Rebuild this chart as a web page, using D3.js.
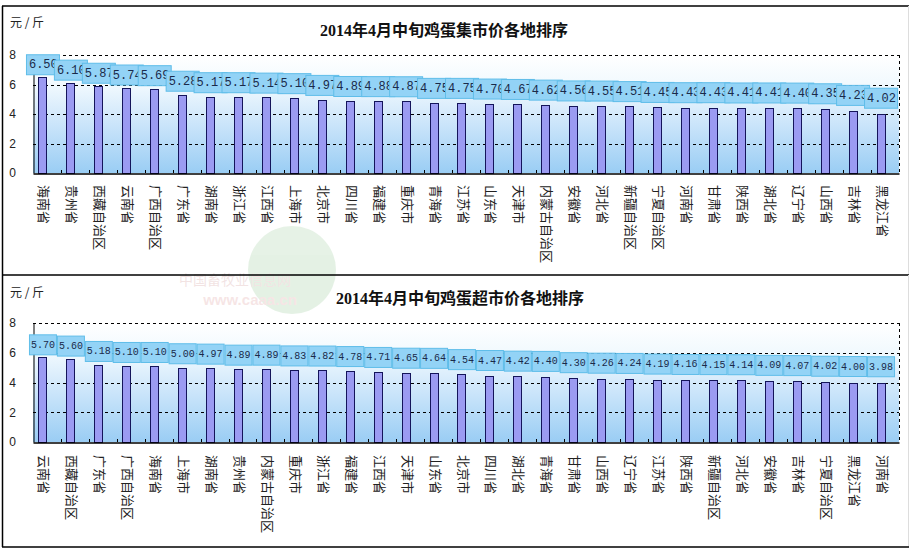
<!DOCTYPE html>
<html><head><meta charset="utf-8">
<script src="https://cdn.jsdelivr.net/npm/d3@7/dist/d3.min.js"></script>
<style>body{margin:0;background:#fff;overflow:hidden}</style>
</head><body><svg id="c" width="920" height="553"></svg>
<script>
// ---------- data ----------
const marketCategories = ["海南省","贵州省","西藏自治区","云南省","广西自治区","广东省","湖南省","浙江省","江西省","上海市","北京市","四川省","福建省","重庆市","青海省","江苏省","山东省","天津市","内蒙古自治区","安徽省","河北省","新疆自治区","宁夏自治区","河南省","甘肃省","陕西省","湖北省","辽宁省","山西省","吉林省","黑龙江省"];
const marketValues = [6.50,6.10,5.87,5.74,5.69,5.28,5.17,5.17,5.14,5.10,4.97,4.89,4.88,4.87,4.75,4.75,4.70,4.67,4.62,4.56,4.55,4.51,4.45,4.43,4.43,4.41,4.41,4.40,4.35,4.23,4.02];
const superCategories = ["云南省","西藏自治区","广东省","广西自治区","海南省","上海市","湖南省","贵州省","内蒙古自治区","重庆市","浙江省","福建省","江西省","天津市","山东省","北京市","四川省","湖北省","青海省","甘肃省","山西省","辽宁省","江苏省","陕西省","新疆自治区","河北省","安徽省","吉林省","宁夏自治区","黑龙江省","河南省"];
const superValues = [5.70,5.60,5.18,5.10,5.10,5.00,4.97,4.89,4.89,4.83,4.82,4.78,4.71,4.65,4.64,4.54,4.47,4.42,4.40,4.30,4.26,4.24,4.19,4.16,4.15,4.14,4.09,4.07,4.02,4.00,3.98];
const yTicks = [0,2,4,6,8];
const unitLabel = "元 / 斤";
const marketTitle = "2014年4月中旬鸡蛋集市价各地排序";
const superTitle = "2014年4月中旬鸡蛋超市价各地排序";

// ---------- drawing ----------
const svg = d3.select("#c");
const defs = svg.append("defs");
const grad = defs.append("linearGradient").attr("id","bg").attr("x1",0).attr("y1",0).attr("x2",0).attr("y2",1);
grad.append("stop").attr("offset","0%").attr("stop-color","#ffffff");
grad.append("stop").attr("offset","25%").attr("stop-color","#f1f9fe");
grad.append("stop").attr("offset","60%").attr("stop-color","#c9e4fa");
grad.append("stop").attr("offset","100%").attr("stop-color","#9acdf4");

const CJK = "'Noto Sans CJK SC','Noto Sans',sans-serif";

// faint watermark (drawn first, behind everything)
const wm = svg.append("g").attr("opacity",0.13);
wm.append("circle").attr("cx",292).attr("cy",270).attr("r",44).attr("fill","#3a9a3a");
wm.append("text").attr("x",235).attr("y",285).attr("text-anchor","middle").attr("font-family",CJK).attr("font-size",14).attr("fill","#a03030").text("中国畜牧业信息网");
wm.append("text").attr("x",250).attr("y",305).attr("text-anchor","middle").attr("font-family","'Liberation Sans',sans-serif").attr("font-weight","bold").attr("font-size",15).attr("fill","#c04040").text("www.caaa.cn");

function drawPanel(cfg){
  const g = svg.append("g");
  // frame
  g.append("line").attr("x1",2).attr("x2",909).attr("y1",cfg.frameTop).attr("y2",cfg.frameTop).attr("stroke","#000").attr("stroke-width",1.5);
  g.append("line").attr("x1",2.5).attr("x2",2.5).attr("y1",cfg.frameTop).attr("y2",cfg.frameBottom).attr("stroke","#000").attr("stroke-width",1.5);
  g.append("line").attr("x1",908.5).attr("x2",908.5).attr("y1",cfg.frameTop).attr("y2",cfg.frameBottom).attr("stroke","#ddd").attr("stroke-width",1);

  const x = d3.scaleBand().domain(cfg.cats).range([cfg.left, cfg.right]).padding(0);
  const y = d3.scaleLinear().domain([0,8]).range([cfg.bottom, cfg.top]);
  const yl = d3.scaleLinear().domain([0,8]).range(cfg.labelRange);
  const bw = x.bandwidth();
  const cx = c => x(c) + bw/2 - 4.5;

  // background
  g.append("rect").attr("x",cfg.left).attr("y",cfg.top).attr("width",cfg.right-cfg.left).attr("height",cfg.bottom-cfg.top).attr("fill","url(#bg)");

  // gridlines
  g.selectAll(".grid").data(yTicks.filter(t=>t>0)).join("line")
    .attr("x1",cfg.left).attr("x2",cfg.right).attr("y1",d=>Math.round(y(d))+0.5).attr("y2",d=>Math.round(y(d))+0.5)
    .attr("stroke","#000").attr("stroke-dasharray","3,3").attr("stroke-width",1);
  g.append("line").attr("x1",cfg.right+0.5).attr("x2",cfg.right+0.5).attr("y1",y(8)).attr("y2",y(0))
    .attr("stroke","#000").attr("stroke-dasharray","3,3");

  // bars
  g.selectAll(".bar").data(cfg.cats).join("rect")
    .attr("x",(c)=>Math.round(cx(c)-4)+0.5)
    .attr("y",(c,i)=>Math.round(y(cfg.vals[i]))+0.5)
    .attr("width",8)
    .attr("height",(c,i)=>y(0)-Math.round(y(cfg.vals[i])))
    .attr("fill","#9b9bf2").attr("stroke","#14145a").attr("stroke-width",1);

  // axes
  const yAxis = d3.axisLeft(y).tickValues(yTicks).tickSize(0).tickPadding(0).tickFormat(d3.format("d"));
  const ya = g.append("g").attr("transform",`translate(${cfg.left+0.5},0)`).call(yAxis);
  ya.select(".domain").attr("stroke","#000");
  ya.selectAll("text").attr("x",-21).attr("text-anchor","middle").attr("font-family","'Liberation Sans',Arial,sans-serif").attr("font-size",12).attr("fill","#222");

  const xAxis = d3.axisBottom(x).tickSize(0).tickFormat("");
  const xa = g.append("g").attr("transform",`translate(0,${Math.round(y(0))+0.5})`).call(xAxis);
  xa.select(".domain").attr("stroke","#000").attr("stroke-width",1.5);
  // small inner tick marks at band boundaries
  g.selectAll(".tk").data(cfg.cats.slice(1)).join("line")
    .attr("x1",c=>Math.round(x(c))+0.5).attr("x2",c=>Math.round(x(c))+0.5)
    .attr("y1",y(0)).attr("y2",y(0)-3).attr("stroke","#000");

  // category labels (rotated)
  g.selectAll(".cat").data(cfg.cats).join("text")
    .attr("transform",c=>`translate(${x(c)+bw/2-2},${cfg.catY}) rotate(90)`)
    .attr("dominant-baseline","central")
    .attr("font-family",CJK).attr("font-size",13).attr("fill","#222")
    .text(c=>c);

  // value label boxes
  const lab = g.selectAll(".lab").data(cfg.cats).join("g")
    .attr("transform",(c,i)=>`translate(${cx(c)-cfg.boxW/2},${yl(cfg.vals[i])-cfg.boxH/2})`);
  lab.append("rect").attr("x",0.5).attr("y",0.5).attr("width",cfg.boxW).attr("height",cfg.boxH)
    .attr("fill","#93d3f6").attr("stroke","#5fbde9").attr("stroke-width",1);
  lab.append("text")
    .attr("x",cfg.textAnchor==="start"?3:cfg.boxW/2+0.5)
    .attr("y",cfg.boxH/2+1)
    .attr("text-anchor",cfg.textAnchor)
    .attr("dominant-baseline","central")
    .attr("font-family","'Liberation Mono','DejaVu Sans Mono',monospace")
    .attr("font-size",cfg.fontSize).attr("fill","#1a2a4a")
    .text((c,i)=>d3.format(".2f")(cfg.vals[i]));

  // unit label & title
  g.append("text").attr("x",10).attr("y",cfg.unitY).attr("font-family",CJK).attr("font-size",12).attr("fill","#222").text(unitLabel);
  g.append("text").attr("x",cfg.titleX).attr("y",cfg.titleY).attr("text-anchor","middle")
    .attr("font-family","'Liberation Serif','Noto Sans CJK SC',serif").attr("font-weight","bold").attr("font-size",16).attr("fill","#111")
    .text(cfg.title);
}

drawPanel({cats:marketCategories, vals:marketValues, title:marketTitle,
  frameTop:6, frameBottom:275, left:33, right:899, top:55, bottom:173,
  labelRange:[152,44], catY:185, boxW:33, boxH:20, fontSize:12, textAnchor:"start",
  unitY:27, titleX:444, titleY:36});
drawPanel({cats:superCategories, vals:superValues, title:superTitle,
  frameTop:275, frameBottom:547, left:33, right:899, top:323, bottom:442,
  labelRange:[417,315], catY:455, boxW:27, boxH:20, fontSize:10, textAnchor:"middle",
  unitY:297, titleX:460, titleY:304});

// bottom frame line
svg.append("line").attr("x1",2).attr("x2",909).attr("y1",547).attr("y2",547).attr("stroke","#000").attr("stroke-width",1.5);
</script></body></html>
